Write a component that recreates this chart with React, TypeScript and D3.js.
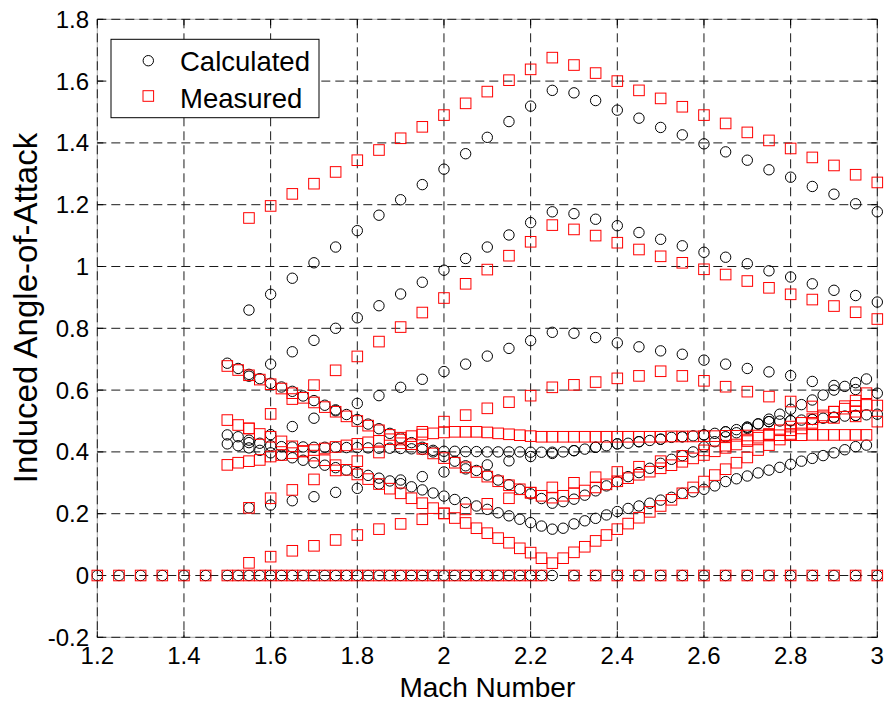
import React from "react";
import * as d3 from "d3";

const W = 891;
const H = 705;

const xTickValues = [1.2, 1.4, 1.6, 1.8, 2.0, 2.2, 2.4, 2.6, 2.8, 3.0];
const xTickLabels = ["1.2", "1.4", "1.6", "1.8", "2", "2.2", "2.4", "2.6", "2.8", "3"];
const yTickValues = [-0.2, 0, 0.2, 0.4, 0.6, 0.8, 1.0, 1.2, 1.4, 1.6, 1.8];
const yTickLabels = ["-0.2", "0", "0.2", "0.4", "0.6", "0.8", "1", "1.2", "1.4", "1.6", "1.8"];

const legendLabels = ["Calculated", "Measured"];

// Mach numbers of the coarse runs
const sparseX = [1.55, 1.6, 1.65, 1.7, 1.75, 1.8, 1.85, 1.9, 1.95, 2.0, 2.05, 2.1, 2.15, 2.2, 2.25, 2.3, 2.35, 2.4, 2.45, 2.5, 2.55, 2.6, 2.65, 2.7, 2.75, 2.8, 2.85, 2.9, 2.95, 3.0];
const calc1 = [0.859, 0.910, 0.962, 1.012, 1.063, 1.116, 1.166, 1.216, 1.265, 1.315, 1.365, 1.418, 1.469, 1.519, 1.570, 1.562, 1.537, 1.506, 1.480, 1.450, 1.426, 1.397, 1.371, 1.344, 1.313, 1.289, 1.259, 1.234, 1.203, 1.177];
const meas1 = [1.157, 1.196, 1.235, 1.268, 1.306, 1.344, 1.377, 1.415, 1.452, 1.490, 1.528, 1.566, 1.603, 1.638, 1.676, 1.652, 1.626, 1.600, 1.570, 1.544, 1.517, 1.490, 1.463, 1.434, 1.408, 1.382, 1.353, 1.327, 1.297, 1.272];
const calc2 = [0.645, 0.684, 0.724, 0.761, 0.800, 0.834, 0.873, 0.911, 0.949, 0.988, 1.026, 1.063, 1.102, 1.142, 1.177, 1.171, 1.153, 1.132, 1.110, 1.088, 1.067, 1.046, 1.030, 1.009, 0.986, 0.966, 0.944, 0.923, 0.906, 0.885];
const meas2 = [0.476, 0.523, 0.571, 0.616, 0.664, 0.709, 0.757, 0.804, 0.851, 0.898, 0.944, 0.990, 1.035, 1.080, 1.134, 1.120, 1.100, 1.077, 1.055, 1.033, 1.012, 0.991, 0.974, 0.953, 0.931, 0.910, 0.893, 0.872, 0.852, 0.830];
const calc3 = [0.430, 0.456, 0.482, 0.509, 0.533, 0.557, 0.582, 0.609, 0.635, 0.660, 0.684, 0.710, 0.735, 0.760, 0.787, 0.784, 0.770, 0.753, 0.740, 0.727, 0.716, 0.697, 0.684, 0.670, 0.659, 0.647, 0.628, 0.615, 0.602, 0.590];
const meas3 = [0.219, 0.250, 0.277, 0.311, 0.340, 0.370, 0.398, 0.428, 0.465, 0.498, 0.519, 0.541, 0.561, 0.582, 0.609, 0.617, 0.626, 0.638, 0.646, 0.661, 0.646, 0.630, 0.611, 0.595, 0.579, 0.563, 0.547, 0.530, 0.515, 0.498];
const calc4 = [0.219, 0.228, 0.242, 0.255, 0.269, 0.282, 0.296, 0.309, 0.320, 0.335, 0.345, 0.358, 0.371, 0.385, 0.395, 0.404, 0.415, 0.426, 0.433, 0.441, 0.449, 0.455, 0.465, 0.480, 0.498, 0.501, 0.505, 0.512, 0.518, 0.522];
const meas4 = [0.041, 0.061, 0.080, 0.096, 0.115, 0.131, 0.150, 0.167, 0.182, 0.201, 0.214, 0.232, 0.250, 0.268, 0.285, 0.300, 0.318, 0.335, 0.352, 0.370, 0.387, 0.405, 0.420, 0.440, 0.455, 0.470, 0.490, 0.510, 0.530, 0.550];

// Mach numbers of the fine runs
const denseX = [1.5, 1.525, 1.55, 1.575, 1.6, 1.625, 1.65, 1.675, 1.7, 1.725, 1.75, 1.775, 1.8, 1.825, 1.85, 1.875, 1.9, 1.925, 1.95, 1.975, 2.0, 2.025, 2.05, 2.075, 2.1, 2.125, 2.15, 2.175, 2.2, 2.225, 2.25, 2.275, 2.3, 2.325, 2.35, 2.375, 2.4, 2.425, 2.45, 2.475, 2.5, 2.525, 2.55, 2.575, 2.6, 2.625, 2.65, 2.675, 2.7, 2.725, 2.75, 2.775, 2.8, 2.825, 2.85, 2.875, 2.9, 2.925, 2.95, 2.975];
const denseCalc1 = [0.687, 0.670, 0.651, 0.637, 0.622, 0.610, 0.596, 0.581, 0.566, 0.551, 0.536, 0.521, 0.505, 0.490, 0.475, 0.460, 0.445, 0.430, 0.415, 0.400, 0.385, 0.370, 0.355, 0.340, 0.325, 0.309, 0.294, 0.279, 0.264, 0.249, 0.234, 0.239, 0.247, 0.260, 0.274, 0.290, 0.304, 0.320, 0.333, 0.347, 0.363, 0.376, 0.388, 0.400, 0.417, 0.433, 0.449, 0.462, 0.476, 0.491, 0.506, 0.522, 0.538, 0.553, 0.568, 0.584, 0.600, 0.612, 0.624, 0.636];
const denseCalc2 = [0.455, 0.449, 0.438, 0.428, 0.420, 0.417, 0.416, 0.416, 0.415, 0.415, 0.415, 0.414, 0.414, 0.413, 0.412, 0.412, 0.411, 0.410, 0.408, 0.405, 0.402, 0.402, 0.401, 0.401, 0.400, 0.400, 0.400, 0.400, 0.399, 0.399, 0.399, 0.400, 0.404, 0.409, 0.415, 0.420, 0.426, 0.428, 0.433, 0.437, 0.441, 0.447, 0.449, 0.452, 0.455, 0.460, 0.465, 0.472, 0.480, 0.490, 0.498, 0.500, 0.501, 0.503, 0.505, 0.509, 0.512, 0.516, 0.518, 0.520];
const denseCalc3 = [0.426, 0.420, 0.413, 0.405, 0.397, 0.389, 0.381, 0.373, 0.365, 0.357, 0.349, 0.341, 0.333, 0.324, 0.315, 0.306, 0.297, 0.287, 0.277, 0.267, 0.257, 0.246, 0.236, 0.225, 0.214, 0.203, 0.193, 0.182, 0.171, 0.160, 0.150, 0.153, 0.167, 0.177, 0.185, 0.196, 0.207, 0.217, 0.225, 0.234, 0.244, 0.253, 0.266, 0.271, 0.279, 0.290, 0.304, 0.313, 0.322, 0.332, 0.341, 0.350, 0.360, 0.370, 0.379, 0.388, 0.397, 0.407, 0.417, 0.422];
const denseMeas1 = [0.678, 0.665, 0.648, 0.634, 0.619, 0.605, 0.590, 0.575, 0.560, 0.545, 0.530, 0.515, 0.500, 0.485, 0.470, 0.455, 0.440, 0.425, 0.410, 0.395, 0.380, 0.365, 0.350, 0.335, 0.320, 0.305, 0.292, 0.279, 0.268, 0.258, 0.252, 0.258, 0.266, 0.275, 0.285, 0.295, 0.305, 0.315, 0.326, 0.336, 0.347, 0.357, 0.368, 0.379, 0.390, 0.402, 0.413, 0.424, 0.435, 0.446, 0.458, 0.470, 0.482, 0.494, 0.506, 0.518, 0.530, 0.540, 0.549, 0.552];
const denseMeas2 = [0.358, 0.365, 0.370, 0.374, 0.385, 0.390, 0.396, 0.401, 0.406, 0.411, 0.416, 0.421, 0.426, 0.431, 0.436, 0.441, 0.446, 0.451, 0.456, 0.460, 0.463, 0.465, 0.465, 0.465, 0.463, 0.460, 0.457, 0.454, 0.451, 0.449, 0.449, 0.449, 0.449, 0.449, 0.449, 0.449, 0.449, 0.449, 0.449, 0.449, 0.449, 0.450, 0.450, 0.450, 0.451, 0.451, 0.452, 0.452, 0.453, 0.453, 0.453, 0.454, 0.454, 0.454, 0.455, 0.455, 0.455, 0.455, 0.455, 0.455];
const denseMeas3 = [0.503, 0.487, 0.476, 0.458, 0.449, 0.434, 0.418, 0.403, 0.388, 0.373, 0.357, 0.342, 0.327, 0.312, 0.296, 0.281, 0.266, 0.250, 0.234, 0.218, 0.201, 0.186, 0.170, 0.153, 0.137, 0.121, 0.106, 0.088, 0.074, 0.056, 0.040, 0.056, 0.075, 0.093, 0.112, 0.131, 0.150, 0.168, 0.187, 0.206, 0.225, 0.245, 0.266, 0.285, 0.304, 0.325, 0.344, 0.365, 0.382, 0.406, 0.422, 0.440, 0.458, 0.476, 0.494, 0.512, 0.530, 0.548, 0.566, 0.590];

// Points that sit on zero
const zeroCalcX = [1.2, 1.25, 1.3, 1.35, 1.4, 1.45, 1.5, 1.525, 1.55, 1.575, 1.6, 1.625, 1.65, 1.675, 1.7, 1.725, 1.75, 1.775, 1.8, 1.825, 1.85, 1.875, 1.9, 1.925, 1.95, 1.975, 2.0, 2.025, 2.05, 2.075, 2.1, 2.125, 2.15, 2.175, 2.2, 2.225, 2.25, 2.3, 2.35, 2.4, 2.45, 2.5, 2.55, 2.6, 2.65, 2.7, 2.75, 2.8, 2.85, 2.9, 2.95, 3.0];
const zeroCalcY = [0, 0, 0, 0, 0, 0, 0, 0, 0, 0, 0, 0, 0, 0, 0, 0, 0, 0, 0, 0, 0, 0, 0, 0, 0, 0, 0, 0, 0, 0, 0, 0, 0, 0, 0, 0, 0, 0, 0, 0, 0, 0, 0, 0, 0, 0, 0, 0, 0, 0, 0, 0];
const zeroMeasX = [1.2, 1.25, 1.3, 1.35, 1.4, 1.45, 1.5, 1.525, 1.55, 1.575, 1.6, 1.625, 1.65, 1.675, 1.7, 1.725, 1.75, 1.775, 1.8, 1.825, 1.85, 1.875, 1.9, 1.925, 1.95, 1.975, 2.0, 2.025, 2.05, 2.075, 2.1, 2.125, 2.15, 2.175, 2.2, 2.225, 2.3, 2.35, 2.4, 2.45, 2.5, 2.55, 2.6, 2.65, 2.7, 2.75, 2.8, 2.85, 2.9, 2.95, 3.0];
const zeroMeasY = [0, 0, 0, 0, 0, 0, 0, 0, 0, 0, 0, 0, 0, 0, 0, 0, 0, 0, 0, 0, 0, 0, 0, 0, 0, 0, 0, 0, 0, 0, 0, 0, 0, 0, 0, 0, 0, 0, 0, 0, 0, 0, 0, 0, 0, 0, 0, 0, 0, 0, 0];

type Pt = [number, number];
const zip = (xs: number[], ys: number[]): Pt[] => xs.map((v, i) => [v, ys[i]] as Pt);

const calcSeries: Pt[][] = [
  zip(zeroCalcX, zeroCalcY),
  zip(sparseX, calc1),
  zip(sparseX, calc2),
  zip(sparseX, calc3),
  zip(sparseX, calc4),
  zip(denseX, denseCalc1),
  zip(denseX, denseCalc2),
  zip(denseX, denseCalc3),
];
const measSeries: Pt[][] = [
  zip(zeroMeasX, zeroMeasY),
  zip(sparseX, meas1),
  zip(sparseX, meas2),
  zip(sparseX, meas3),
  zip(sparseX, meas4),
  zip(denseX, denseMeas1),
  zip(denseX, denseMeas2),
  zip(denseX, denseMeas3),
];

const PL = 97.3, PR = 877.3, PT = 19.3, PB = 637.3;
const FONT = "'Liberation Sans', Arial, Helvetica, sans-serif";

export default function App() {
  const x = d3.scaleLinear().domain([1.2, 3]).range([PL, PR]);
  const y = d3.scaleLinear().domain([-0.2, 1.8]).range([PB, PT]);
  const r = 5.2;
  const s = 10.6;
  const gridColor = "#1a1a1a";
  const dash = "9,5";

  return (
    <svg width={W} height={H} style={{ position: "absolute", left: 0, top: 0, background: "#fff" }} fontFamily={FONT}>
      <rect x={0} y={0} width={W} height={H} fill="#fff" />
      {/* box */}
      <rect x={PL} y={PT} width={PR - PL} height={PB - PT} fill="none" stroke="#aaa" strokeWidth={1} />
      {/* grid */}
      {xTickValues.map((v, i) => (
        <line key={"gx" + i} x1={x(v)} x2={x(v)} y1={PT} y2={PB} stroke={gridColor} strokeDasharray={dash} strokeWidth={1} />
      ))}
      {yTickValues.map((v, i) => (
        <line key={"gy" + i} y1={y(v)} y2={y(v)} x1={PL} x2={PR} stroke={gridColor} strokeDasharray={dash} strokeWidth={1} />
      ))}
      {/* ticks */}
      {xTickValues.map((v, i) => (
        <g key={"tx" + i}>
          <line x1={x(v)} x2={x(v)} y1={PB} y2={PB - 6} stroke="#000" />
          <line x1={x(v)} x2={x(v)} y1={PT} y2={PT + 6} stroke="#000" />
        </g>
      ))}
      {yTickValues.map((v, i) => (
        <g key={"ty" + i}>
          <line x1={PL} x2={PL + 6} y1={y(v)} y2={y(v)} stroke="#000" />
          <line x1={PR} x2={PR - 6} y1={y(v)} y2={y(v)} stroke="#000" />
        </g>
      ))}
      {/* tick labels */}
      {xTickValues.map((v, i) => (
        <text key={"lx" + i} x={x(v)} y={664} textAnchor="middle" fontSize={24} fill="#000">
          {xTickLabels[i]}
        </text>
      ))}
      {yTickValues.map((v, i) => (
        <text key={"ly" + i} x={89} y={y(v) + 8.5} textAnchor="end" fontSize={24} fill="#000">
          {yTickLabels[i]}
        </text>
      ))}
      {/* data: calculated */}
      {calcSeries.map((ser, si) => (
        <g key={"c" + si}>
          {ser.map((p, j) => (
            <circle key={j} cx={x(p[0])} cy={y(p[1])} r={r} fill="none" stroke="#000" strokeWidth={1} />
          ))}
        </g>
      ))}
      {/* data: measured */}
      {measSeries.map((ser, si) => (
        <g key={"m" + si}>
          {ser.map((p, j) => (
            <rect key={j} x={x(p[0]) - s / 2} y={y(p[1]) - s / 2} width={s} height={s} fill="none" stroke="#ff0000" strokeWidth={1} />
          ))}
        </g>
      ))}
      {/* axis labels */}
      <text x={(PL + PR) / 2} y={697} textAnchor="middle" fontSize={28} fill="#000">Mach Number</text>
      <text transform={`translate(37, 308) rotate(-90)`} textAnchor="middle" fontSize={33} fill="#000">Induced Angle-of-Attack</text>
      {/* legend */}
      <rect x={111} y={39.3} width={208} height={78.4} fill="#fff" stroke="#000" strokeWidth={1} />
      <circle cx={148.3} cy={60.7} r={r} fill="none" stroke="#000" />
      <rect x={148.3 - s / 2} y={96 - s / 2} width={s} height={s} fill="none" stroke="#ff0000" />
      <text x={180} y={70.5} fontSize={27.5} fill="#000">{legendLabels[0]}</text>
      <text x={180} y={107.5} fontSize={27.5} fill="#000">{legendLabels[1]}</text>
    </svg>
  );
}
